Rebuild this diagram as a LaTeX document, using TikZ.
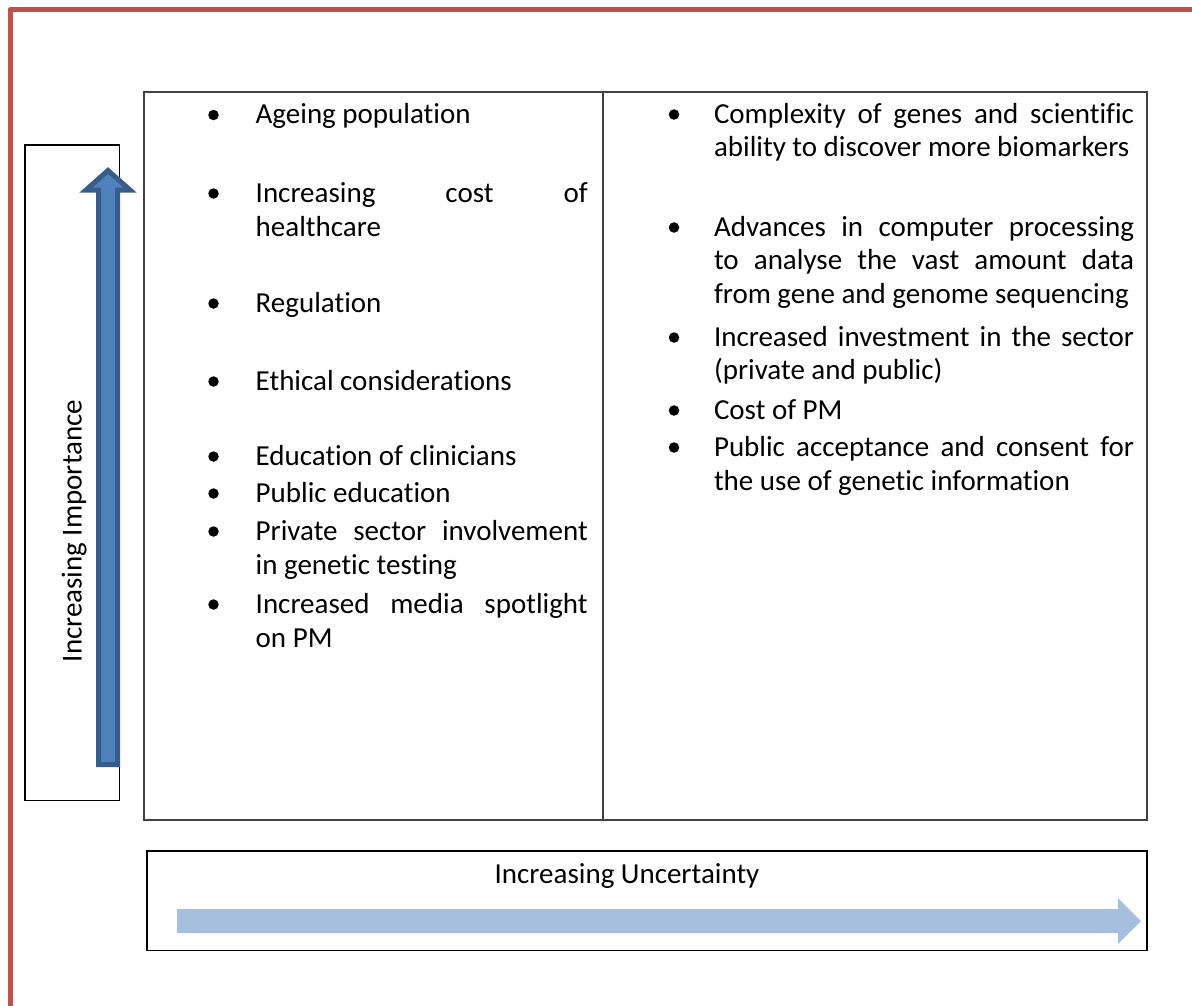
\documentclass[tikz,border=0pt]{standalone}
\usepackage{fontspec}
\setmainfont{Carlito}[Ligatures={NoCommon,NoContextual}]
\definecolor{frameRed}{HTML}{C0504D}
\definecolor{arrowEdge}{HTML}{385D8A}
\definecolor{arrowFill}{HTML}{4F81BD}
\definecolor{arrowLight}{HTML}{A7BFDE}
\definecolor{gridGray}{HTML}{404040}
\begin{document}
\begin{tikzpicture}[x=1pt,y=-1pt,
  txt/.style={inner sep=0pt, outer sep=0pt, anchor=base west, font=\fontsize{29}{35}\selectfont},
  lbl/.style={inner sep=0pt, outer sep=0pt, font=\fontsize{29}{35}\selectfont},
  dot/.style={circle, fill=black, inner sep=0pt, minimum size=10.5pt},
  thinbox/.style={draw=black, line width=1.3pt},
  gridline/.style={draw=gridGray, line width=1.8pt}]
\useasboundingbox (0,0) rectangle (1192,1005);

% page frame
\draw[frameRed, line width=5pt, line join=round] (10,1012) -- (10,9.5) -- (1199,9.5);

% importance label box and up arrow
\draw[thinbox] (25,145) rectangle (119.3,800.7);
\node[lbl, rotate=90, anchor=base] (imp) at (81.7,531) {Increasing Importance};
\draw[arrowEdge, fill=arrowFill, line width=5pt, line join=miter]
  (98.5,764.5) -- (98.5,190) -- (86,190) -- (108,170.5) -- (130,190)
  -- (117.5,190) -- (117.5,764.5) -- cycle;

% two-column table
\draw[gridline] (144,92.3) rectangle (1147,820);
\draw[gridline] (603,92.3) -- (603,820);

% left column
\def\lw{332pt}
\node[dot] (bl1) at (213.5,115) {};
\node[txt] (l1) at (255.7,123.5) {Ageing population};
\node[dot] (bl2) at (213.5,193.5) {};
\node[txt] (l2a) at (255.7,202) {\makebox[\lw][s]{Increasing cost of}};
\node[txt] (l2b) at (255.7,236) {healthcare};
\node[dot] (bl3) at (213.5,303.5) {};
\node[txt] (l3) at (255.7,312) {Regulation};
\node[dot] (bl4) at (213.5,381.5) {};
\node[txt] (l4) at (255.7,390) {Ethical considerations};
\node[dot] (bl5) at (213.5,456.5) {};
\node[txt] (l5) at (255.7,465) {Education of clinicians};
\node[dot] (bl6) at (213.5,493.5) {};
\node[txt] (l6) at (255.7,502) {Public education};
\node[dot] (bl7) at (213.5,531.5) {};
\node[txt] (l7a) at (255.7,540) {\makebox[\lw][s]{Private sector involvement}};
\node[txt] (l7b) at (255.7,574) {in genetic testing};
\node[dot] (bl8) at (213.5,604.5) {};
\node[txt] (l8a) at (255.7,613) {\makebox[\lw][s]{Increased media spotlight}};
\node[txt] (l8b) at (255.7,647) {on PM};

% right column
\def\rw{420pt}
\node[dot] (br1) at (674,114.5) {};
\node[txt] (r1a) at (714,123) {\makebox[\rw][s]{Complexity of genes and scientific}};
\node[txt] (r1b) at (714,156.5) {ability to discover more biomarkers};
\node[dot] (br2) at (674,227.5) {};
\node[txt] (r2a) at (714,236) {\makebox[\rw][s]{Advances in computer processing}};
\node[txt] (r2b) at (714,269.5) {\makebox[\rw][s]{to analyse the vast amount data}};
\node[txt] (r2c) at (714,303) {from gene and genome sequencing};
\node[dot] (br3) at (674,337.5) {};
\node[txt] (r3a) at (714,346) {\makebox[\rw][s]{Increased investment in the sector}};
\node[txt] (r3b) at (714,379) {(private and public)};
\node[dot] (br4) at (674,410.5) {};
\node[txt] (r4) at (714,419) {Cost of PM};
\node[dot] (br5) at (674,447.5) {};
\node[txt] (r5a) at (714,456) {\makebox[\rw][s]{Public acceptance and consent for}};
\node[txt] (r5b) at (714,490.5) {the use of genetic information};

% uncertainty box and right arrow
\draw[thinbox] (147,851) rectangle (1147,950.5);
\node[lbl, anchor=base] (unc) at (627,883.5) {Increasing Uncertainty};
\fill[arrowLight] (177,909) -- (1118,909) -- (1118,898) -- (1141,921)
  -- (1118,944) -- (1118,933) -- (177,933) -- cycle;
\end{tikzpicture}
\end{document}
